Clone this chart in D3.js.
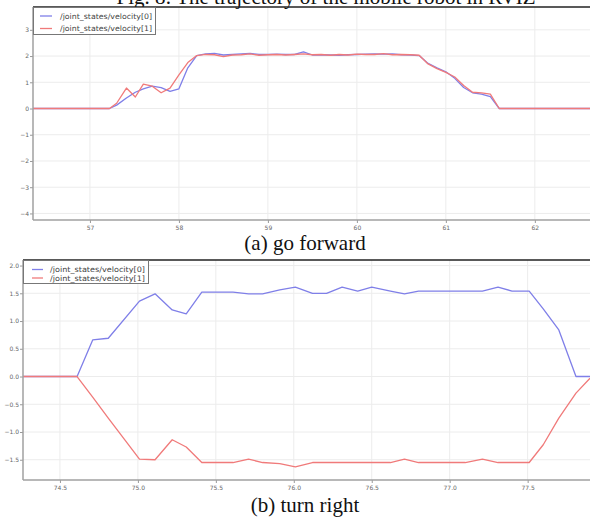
<!DOCTYPE html>
<html>
<head>
<meta charset="utf-8">
<script src="https://cdn.jsdelivr.net/npm/d3@7/dist/d3.min.js"></script>
<style>
  body { margin: 0; background: #fff; }
  svg { display: block; }
  .tick-label { font-family: "DejaVu Sans", sans-serif; font-size: 6px; fill: #666; }
  .legend-text { font-family: "DejaVu Sans", sans-serif; font-size: 7.5px; fill: #444; }
  .caption { font-family: "Liberation Serif", "Times New Roman", serif; font-size: 21px; fill: #111; }
</style>
</head>
<body>
<div id="fig"></div>
<script>
// ---- data: (a) go forward ----
const timeA = [56.36, 57.22, 57.30, 57.41, 57.51, 57.60, 57.70, 57.80, 57.90, 58.00,
  58.10, 58.20, 58.30, 58.40, 58.50, 58.60, 58.70, 58.80, 58.90, 59.00,
  59.10, 59.20, 59.30, 59.40, 59.50, 59.60, 59.70, 59.80, 59.90, 60.00,
  60.10, 60.20, 60.30, 60.40, 60.50, 60.60, 60.70, 60.80, 60.90, 61.00,
  61.10, 61.20, 61.30, 61.40, 61.50, 61.60, 62.62];
const velocity0A = [0, 0, 0.13, 0.40, 0.62, 0.75, 0.85, 0.80, 0.65, 0.75,
  1.55, 2.02, 2.08, 2.10, 2.04, 2.06, 2.08, 2.10, 2.06, 2.06,
  2.07, 2.06, 2.06, 2.16, 2.04, 2.05, 2.04, 2.03, 2.05, 2.06,
  2.07, 2.08, 2.07, 2.08, 2.05, 2.04, 2.02, 1.72, 1.55, 1.40,
  1.15, 0.80, 0.60, 0.55, 0.45, 0, 0];
const velocity1A = [0, 0, 0.20, 0.78, 0.44, 0.93, 0.85, 0.60, 0.78, 1.28,
  1.75, 2.02, 2.06, 2.05, 1.98, 2.04, 2.05, 2.08, 2.03, 2.05,
  2.06, 2.04, 2.06, 2.08, 2.05, 2.06, 2.03, 2.06, 2.04, 2.07,
  2.06, 2.06, 2.09, 2.05, 2.06, 2.05, 2.03, 1.70, 1.52, 1.38,
  1.20, 0.88, 0.62, 0.60, 0.55, 0, 0];
const xTicksA = [57, 58, 59, 60, 61, 62];
const yTicksA = [-4, -3, -2, -1, 0, 1, 2, 3];

// ---- data: (b) turn right ----
const timeB = [74.263, 74.61, 74.71, 74.81, 75.01, 75.11, 75.22, 75.31, 75.41, 75.50,
  75.61, 75.71, 75.80, 75.91, 76.01, 76.12, 76.21, 76.31, 76.41, 76.50,
  76.62, 76.71, 76.80, 76.92, 77.00, 77.10, 77.21, 77.31, 77.40, 77.51,
  77.60, 77.70, 77.81, 77.90];
const velocity0B = [0, 0, 0.66, 0.69, 1.36, 1.49, 1.20, 1.13, 1.52, 1.52,
  1.52, 1.49, 1.49, 1.56, 1.61, 1.50, 1.50, 1.61, 1.54, 1.61,
  1.54, 1.49, 1.54, 1.54, 1.54, 1.54, 1.54, 1.61, 1.54, 1.54,
  1.22, 0.84, 0, 0];
const velocity1B = [0, 0, -0.37, -0.75, -1.49, -1.50, -1.14, -1.27, -1.55, -1.55,
  -1.55, -1.49, -1.55, -1.57, -1.63, -1.55, -1.55, -1.55, -1.55, -1.55,
  -1.55, -1.49, -1.55, -1.55, -1.55, -1.55, -1.49, -1.55, -1.55, -1.55,
  -1.23, -0.75, -0.30, -0.03];
const xTicksB = [74.5, 75.0, 75.5, 76.0, 76.5, 77.0, 77.5];
const yTicksB = [-1.5, -1.0, -0.5, 0.0, 0.5, 1.0, 1.5, 2.0];

const seriesNames = ['/joint_states/velocity[0]', '/joint_states/velocity[1]'];
const seriesColors = ['#7f7fe8', '#f07a7a'];

const svg = d3.select('#fig').append('svg')
  .attr('width', 590)
  .attr('height', 521);

// captions
svg.append('text').attr('class', 'caption')
  .attr('x', 326).attr('y', 4).attr('text-anchor', 'middle')
  .text('Fig. 8: The trajectory of the mobile robot in RVIZ');
svg.append('text').attr('class', 'caption')
  .attr('x', 305).attr('y', 250).attr('text-anchor', 'middle')
  .text('(a) go forward');
svg.append('text').attr('class', 'caption')
  .attr('x', 305).attr('y', 512).attr('text-anchor', 'middle')
  .text('(b) turn right');

class LineChart {
  constructor(_config) {
    this.config = _config;
    this.initVis();
  }

  initVis() {
    let vis = this;
    const c = vis.config;

    vis.xScale = d3.scaleLinear().domain(c.xDomain).range([c.left, c.right]);
    vis.yScale = d3.scaleLinear().domain(c.yDomain).range([c.bottom, c.top]);

    vis.g = svg.append('g');

    // clip for the plot area
    vis.g.append('clipPath').attr('id', c.id + '-clip')
      .append('rect')
      .attr('x', c.left).attr('y', c.top)
      .attr('width', c.right - c.left).attr('height', c.bottom - c.top);

    // grid
    vis.g.append('g').selectAll('line').data(c.xTicks).join('line')
      .attr('x1', d => vis.xScale(d)).attr('x2', d => vis.xScale(d))
      .attr('y1', c.top).attr('y2', c.bottom)
      .attr('stroke', '#ececec').attr('stroke-width', 1);
    vis.g.append('g').selectAll('line').data(c.yTicks).join('line')
      .attr('y1', d => vis.yScale(d)).attr('y2', d => vis.yScale(d))
      .attr('x1', c.left).attr('x2', c.right)
      .attr('stroke', '#ececec').attr('stroke-width', 1);

    // axes
    const xAxis = d3.axisBottom(vis.xScale).tickValues(c.xTicks)
      .tickSize(3).tickFormat(c.xFormat);
    const yAxis = d3.axisLeft(vis.yScale).tickValues(c.yTicks)
      .tickSize(3).tickFormat(c.yFormat);

    const xg = vis.g.append('g').attr('transform', `translate(0,${c.bottom})`).call(xAxis);
    const yg = vis.g.append('g').attr('transform', `translate(${c.left},0)`).call(yAxis);
    [xg, yg].forEach(a => {
      a.select('.domain').remove();
      a.selectAll('.tick line').attr('stroke', '#999');
      a.selectAll('.tick text').attr('class', 'tick-label').attr('fill', null);
    });
    xg.selectAll('.tick text').attr('dy', null).attr('y', 10);
    yg.selectAll('.tick text').attr('x', -4);

    // lines
    const line = d3.line()
      .x((d, i) => vis.xScale(c.time[i]))
      .y(d => vis.yScale(d));
    vis.g.append('g').attr('clip-path', `url(#${c.id}-clip)`)
      .selectAll('path').data(c.series).join('path')
      .attr('d', d => line(d))
      .attr('fill', 'none')
      .attr('stroke', (d, i) => seriesColors[i])
      .attr('stroke-width', 1.3)
      .attr('stroke-linejoin', 'round');

    // spines
    vis.g.append('line')
      .attr('x1', c.left).attr('x2', c.right).attr('y1', c.top).attr('y2', c.top)
      .attr('stroke', '#222').attr('stroke-width', 1.5);
    vis.g.append('line')
      .attr('x1', c.left).attr('x2', c.left).attr('y1', c.top).attr('y2', c.bottom)
      .attr('stroke', '#a0a0a0').attr('stroke-width', 1.5);
    vis.g.append('line')
      .attr('x1', c.left).attr('x2', c.right).attr('y1', c.bottom).attr('y2', c.bottom)
      .attr('stroke', '#a0a0a0').attr('stroke-width', 1.5);

    // legend
    const L = c.legend;
    const lg = vis.g.append('g');
    lg.append('rect')
      .attr('x', c.left + 0.5).attr('y', c.top + 0.5)
      .attr('width', L.w).attr('height', L.h)
      .attr('fill', '#fff').attr('stroke', '#777').attr('stroke-width', 1);
    seriesNames.forEach((name, i) => {
      const yy = c.top + L.row0 + i * L.step;
      lg.append('line')
        .attr('x1', c.left + L.lx0).attr('x2', c.left + L.lx1)
        .attr('y1', yy).attr('y2', yy)
        .attr('stroke', seriesColors[i]).attr('stroke-width', 1.3);
      lg.append('text').attr('class', 'legend-text')
        .attr('x', c.left + L.tx).attr('y', yy + 2.6)
        .attr('textLength', L.tw).attr('lengthAdjust', 'spacingAndGlyphs')
        .text(name);
    });
  }
}

const minusFmt = f => d => f(d).replace('-', '\u2212');

new LineChart({
  id: 'a', left: 33, right: 590, top: 7, bottom: 220,
  xDomain: [56.36, 62.62], yDomain: [-4.25, 3.87],
  xTicks: xTicksA, yTicks: yTicksA,
  xFormat: d3.format('d'), yFormat: minusFmt(d3.format('d')),
  time: timeA, series: [velocity0A, velocity1A],
  legend: { w: 122, h: 27, row0: 9, step: 12.5, lx0: 7, lx1: 19, tx: 27, tw: 92 }
});

new LineChart({
  id: 'b', left: 23, right: 590, top: 260, bottom: 480,
  xDomain: [74.263, 77.9], yDomain: [-1.865, 2.1],
  xTicks: xTicksB, yTicks: yTicksB,
  xFormat: d3.format('.1f'), yFormat: minusFmt(d3.format('.1f')),
  time: timeB, series: [velocity0B, velocity1B],
  legend: { w: 125, h: 23, row0: 9.5, step: 8.5, lx0: 9, lx1: 20, tx: 27, tw: 95 }
});
</script>
</body>
</html>
